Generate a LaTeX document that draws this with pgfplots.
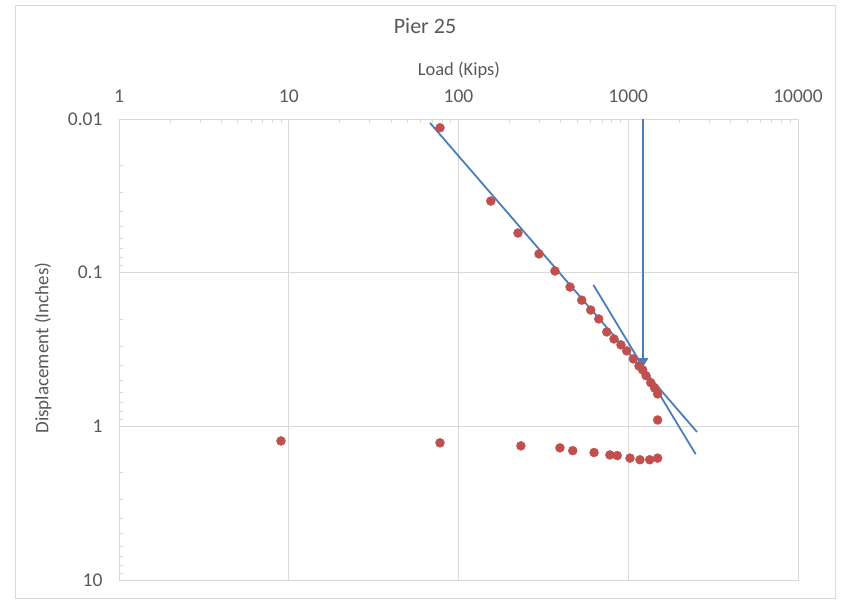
\documentclass[border=0pt]{standalone}
\usepackage{pgfplots}
\pgfplotsset{compat=1.18}
\usepackage{fontspec}
\setmainfont{Carlito}
\usetikzlibrary{arrows.meta}
\definecolor{ptred}{HTML}{C0504D}
\definecolor{lnblue}{HTML}{4A7EBB}
\definecolor{gridgray}{HTML}{D9D9D9}
\definecolor{txtgray}{HTML}{595959}

\pgfplotstableread{
x y
77.8 0.0114
155 0.0342
224 0.0552
298 0.0755
370 0.0975
454 0.124
532 0.151
601 0.175
670 0.200
747 0.243
824 0.270
906 0.295
979 0.323
1071 0.364
1157 0.405
1217 0.430
1273 0.468
1356 0.520
1431 0.563
1490 0.615
1490 0.909
9.0 1.245
77.8 1.28
233 1.34
396 1.38
471 1.44
629 1.48
780 1.535
861 1.55
1024 1.61
1172 1.65
1337 1.65
1490 1.61
}\loaddata

\begin{document}
\begin{tikzpicture}[x=1pt,y=1pt]
\path[use as bounding box] (0,0) rectangle (848,-602);
\draw[gridgray, line width=0.8pt] (15,-5) rectangle (835,-598);
\begin{axis}[
  at={(119pt,-119pt)}, anchor=north west,
  scale only axis, width=679pt, height=461pt,
  xmode=log, ymode=log,
  xmin=1, xmax=10000, ymin=0.01, ymax=10,
  y dir=reverse,
  axis line style={gridgray, line width=0.8pt},
  grid=major, major grid style={gridgray, line width=0.8pt},
  xtick={1,10,100,1000,10000},
  xticklabels={1,10,100,1000,10000},
  ytick={0.01,0.1,1,10},
  yticklabels={0.01,0.1,1,10},
  xtick pos=upper, xticklabel pos=upper,
  ytick pos=left,
  tick align=inside,
  major tick length=5pt, minor tick length=4pt,
  tick style={gridgray, line width=0.8pt},
  every tick label/.style={font=\fontsize{19.5}{23}\selectfont, text=txtgray},
  xticklabel style={yshift=13pt},
  yticklabel style={xshift=-13pt},
  every axis title shift=0pt,
  title={Pier 25},
  title style={at={(0.4507,1.2017)}, anchor=center, font=\fontsize{22}{26}\selectfont, text=txtgray},
  xlabel={Load (Kips)},
  xlabel style={at={(0.5007,1.106)}, anchor=center, font=\fontsize{18.5}{22}\selectfont, text=txtgray},
  ylabel={Displacement (Inches)},
  ylabel style={at={(-0.112,0.503)}, anchor=center, rotate=0, font=\fontsize{19}{22}\selectfont, text=txtgray},
  clip=false,
]
\addplot[only marks, mark=*, mark size=4.5pt, mark options={fill=ptred, draw=ptred}] table[x=x,y=y] {\loaddata};
\addplot[lnblue, line width=1.8pt] coordinates {(67.9,0.0106) (2541,1.088)};
\addplot[lnblue, line width=1.8pt] coordinates {(623,0.120) (2496,1.519)};
\addplot[lnblue, line width=1.8pt, -{Triangle[width=10pt,length=9pt]}] coordinates {(1222,0.01) (1222,0.412)};
\end{axis}
\end{tikzpicture}
\end{document}
